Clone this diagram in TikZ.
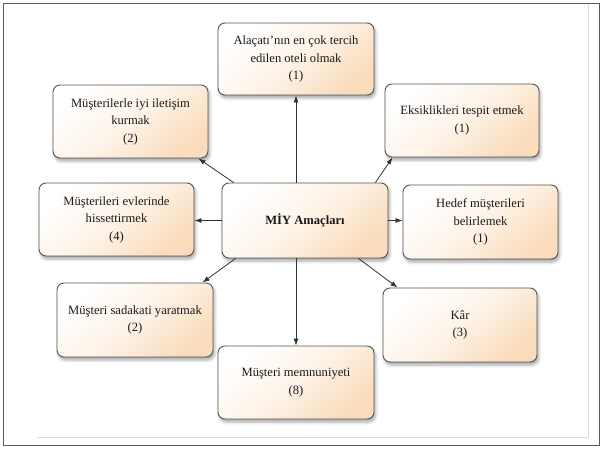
\documentclass[tikz,border=0pt]{standalone}
\usepackage{fontspec}
\setmainfont{Liberation Serif}
\usetikzlibrary{arrows.meta,shadows.blur}
\definecolor{boxpeach}{HTML}{FADCBC}
\definecolor{boxedge}{HTML}{555555}
\definecolor{ink}{HTML}{1A1A1A}
\definecolor{framegray}{HTML}{5A5A5A}
\definecolor{innergray}{HTML}{DCDCDC}
\tikzset{
  goalbox/.style={draw=boxedge, line width=0.9pt, rounded corners=7pt,
    top color=white, bottom color=boxpeach, middle color=boxpeach!35, shading angle=40,
    blur shadow={shadow xshift=1.5pt, shadow yshift=-3pt, shadow blur radius=3pt, shadow opacity=35},
    align=center, text=ink, inner sep=2pt,
    font=\fontsize{12.6}{17.5}\selectfont},
  arr/.style={draw=ink!90, line width=0.8pt, -{Latex[length=7pt,width=5pt]}}
}
\begin{document}
\begin{tikzpicture}[x=1pt,y=-1pt]
\useasboundingbox (0,0) rectangle (603,449);
% page frame
\draw[innergray, line width=0.8pt] (37,437) -- (588,437) -- (588,3);
\draw[framegray, line width=1.3pt] (3.5,3.5) rectangle (599.5,445.5);

% goal boxes
\node[goalbox, minimum width=156pt, minimum height=72pt] (t) at (296,59)
  {Alaçatı'nın en çok tercih\\ edilen oteli olmak\\ (1)};
\node[goalbox, minimum width=155pt, minimum height=73pt] (ul) at (130.5,121.5)
  {Müşterilerle iyi iletişim\\ kurmak\\ (2)};
\node[goalbox, minimum width=154pt, minimum height=73pt] (ur) at (462,120.5)
  {Eksiklikleri tespit etmek\\ (1)};
\node[goalbox, minimum width=155pt, minimum height=73pt] (l) at (116.5,219.5)
  {Müşterileri evlerinde\\ hissettirmek\\ (4)};
\node[goalbox, minimum width=166pt, minimum height=75pt] (c) at (305,220.5)
  {\textbf{MİY Amaçları}};
\node[goalbox, minimum width=155pt, minimum height=74pt] (r) at (480.5,222)
  {Hedef müşterileri\\ belirlemek\\ (1)};
\node[goalbox, minimum width=156pt, minimum height=74pt] (ll) at (135,320)
  {Müşteri sadakati yaratmak\\ (2)};
\node[goalbox, minimum width=154pt, minimum height=74pt] (lr) at (460,325)
  {Kâr\\ (3)};
\node[goalbox, minimum width=156pt, minimum height=73pt] (b) at (296,382.5)
  {Müşteri memnuniyeti\\ (8)};

% connectors from the centre box
\draw[arr] (t.south |- c.north) -- (t.south);
\draw[arr] (b.north |- c.south) -- (b.north);
\draw[arr] (c.west) -- (l.east |- c.west);
\draw[arr] (c.east) -- (r.west |- c.east);
\draw[arr] ([xshift=12pt]c.north west) -- ([xshift=-10pt]ul.south east);
\draw[arr] ([xshift=-13pt]c.north east) -- ([xshift=8pt]ur.south west);
\draw[arr] ([xshift=14pt]c.south west) -- ([xshift=-11pt]ll.north east);
\draw[arr] ([xshift=-30pt]c.south east) -- ([xshift=15pt]lr.north west);
\end{tikzpicture}
\end{document}
